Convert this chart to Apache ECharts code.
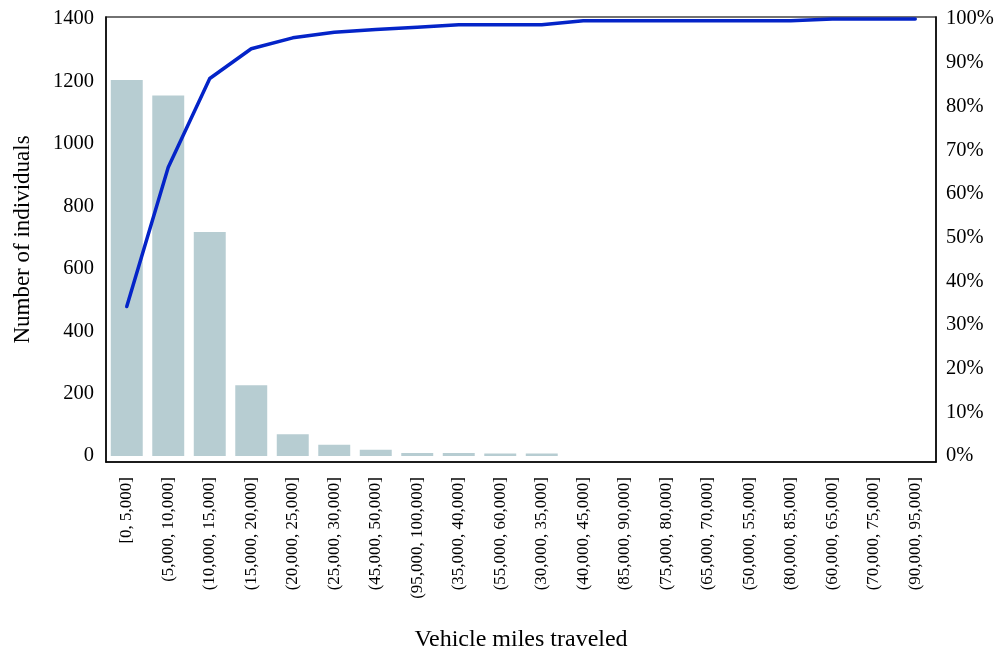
<!DOCTYPE html>
<html>
<head>
<meta charset="utf-8">
<script src="https://cdn.jsdelivr.net/npm/echarts@6/dist/echarts.min.js"></script>
<style>
html,body{margin:0;padding:0;background:#fff;}
#chart{width:1001px;height:651px;}
</style>
</head>
<body>
<div id="chart"></div>
<script>
var categories = ['[0, 5,000]','(5,000, 10,000]','(10,000, 15,000]','(15,000, 20,000]','(20,000, 25,000]','(25,000, 30,000]','(45,000, 50,000]','(95,000, 100,000]','(35,000, 40,000]','(55,000, 60,000]','(30,000, 35,000]','(40,000, 45,000]','(85,000, 90,000]','(75,000, 80,000]','(65,000, 70,000]','(50,000, 55,000]','(80,000, 85,000]','(60,000, 65,000]','(70,000, 75,000]','(90,000, 95,000]'];
var counts = [1205, 1155, 718, 227, 70, 36, 20, 10, 10, 8, 8, 0, 0, 0, 0, 0, 0, 0, 0, 0];
var cumulativePct = [34.2, 66.1, 86.4, 93.2, 95.7, 97.0, 97.6, 98.1, 98.7, 98.7, 98.7, 99.6, 99.6, 99.6, 99.6, 99.6, 99.6, 100, 100, 100];
var leftTicks = [0, 200, 400, 600, 800, 1000, 1200, 1400];
var rightTicks = [0, 10, 20, 30, 40, 50, 60, 70, 80, 90, 100];

var FONT = 'Liberation Serif';
var chart = echarts.init(document.getElementById('chart'));
chart.setOption({
  animation: false,
  backgroundColor: '#fff',
  grid: {left: 106, right: 65, top: 17, bottom: 189, outerBoundsMode: 'none', containLabel: false, show: true, borderColor: '#444', borderWidth: 1.5, backgroundColor: 'transparent'},
  xAxis: {
    type: 'category',
    data: categories,
    name: 'Vehicle miles traveled',
    nameLocation: 'middle',
    nameGap: 166,
    nameTextStyle: {fontFamily: FONT, fontSize: 24, color: '#000'},
    axisLine: {show: true, onZero: false, lineStyle: {color: '#000', width: 1.5}},
    axisTick: {show: false},
    axisLabel: {rotate: 90, interval: 0, margin: 15, fontFamily: FONT, fontSize: 17, color: '#000'}
  },
  yAxis: [{
    type: 'value',
    min: -19.2,
    max: 1406.5,
    name: 'Number of individuals',
    nameLocation: 'middle',
    nameGap: 72,
    nameTextStyle: {fontFamily: FONT, fontSize: 23, color: '#000'},
    axisLine: {show: true, lineStyle: {color: '#000', width: 1.5}},
    axisTick: {show: false},
    splitLine: {show: false},
    axisLabel: {customValues: leftTicks, formatter: function (v) { return String(v); }, margin: 12, fontFamily: FONT, fontSize: 20.5, color: '#000'}
  }, {
    type: 'value',
    min: -1.373,
    max: 100.466,
    position: 'right',
    axisLine: {show: true, lineStyle: {color: '#000', width: 1.5}},
    axisTick: {show: false},
    splitLine: {show: false},
    axisLabel: {customValues: rightTicks, formatter: '{value}%', margin: 10, fontFamily: FONT, fontSize: 20.5, color: '#000'}
  }],
  series: [{
    type: 'bar',
    data: counts,
    yAxisIndex: 0,
    barCategoryGap: '23%',
    itemStyle: {color: '#b7cdd2'}
  }, {
    type: 'line',
    data: cumulativePct,
    yAxisIndex: 1,
    symbol: 'none',
    lineStyle: {color: '#0424c8', width: 3.5, cap: 'round', join: 'round'}
  }]
});
</script>
</body>
</html>
